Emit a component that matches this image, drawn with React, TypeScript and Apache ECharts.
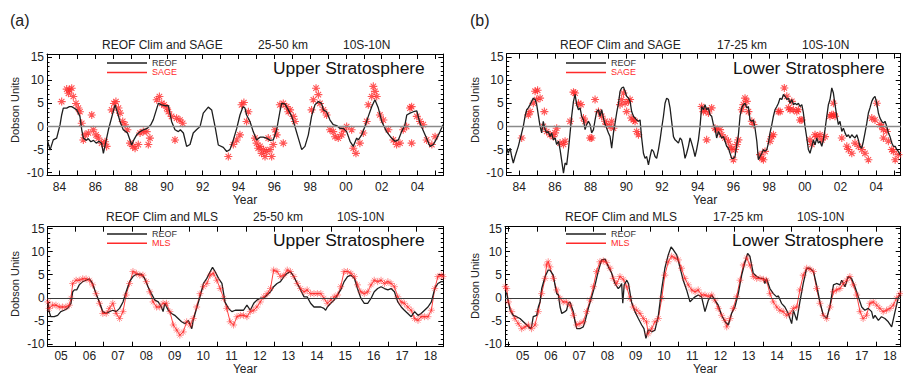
import React, { useEffect, useRef } from 'react';
import * as echarts from 'echarts';

const FONT = "'Liberation Sans', Arial, Helvetica, sans-serif";
const ASTER = 'path://M5,0L5,10M0,5L10,5M1.6,1.6L8.4,8.4M8.4,1.6L1.6,8.4';

// ---- tick values ----
const yMajorTicks = [-10, -5, 0, 5, 10, 15];
const yMinorTicks = [-9, -8, -7, -6, -4, -3, -2, -1, 1, 2, 3, 4, 6, 7, 8, 9, 11, 12, 13, 14];
const sageYearLabels = [1984, 1986, 1988, 1990, 1992, 1994, 1996, 1998, 2000, 2002, 2004];
const sageYearTicks = [1984, 1985, 1986, 1987, 1988, 1989, 1990, 1991, 1992, 1993, 1994, 1995, 1996, 1997, 1998, 1999, 2000, 2001, 2002, 2003, 2004, 2005];
const mlsYearLabels = [2005, 2006, 2007, 2008, 2009, 2010, 2011, 2012, 2013, 2014, 2015, 2016, 2017, 2018];
const mlsYearTicks = [2004.5, 2005.5, 2006.5, 2007.5, 2008.5, 2009.5, 2010.5, 2011.5, 2012.5, 2013.5, 2014.5, 2015.5, 2016.5, 2017.5];

// ---- (a) SAGE, 25-50 km ----
const sageUpperReof = [
  [1983.32, -2.9], [1983.47, -5.1], [1983.65, -2.9], [1983.84, -2.5], [1984.03, 0.4], [1984.12, 2.5], [1984.21, 4.0],
  [1984.4, 4.0], [1984.55, 4.3], [1984.68, 4.3], [1984.8, 4.0], [1984.96, 3.6], [1985.14, 2.2], [1985.24, -0.7],
  [1985.33, -2.5], [1985.5, -3.0], [1985.6, -2.6], [1985.75, -3.3], [1985.9, -3.0], [1986.05, -3.6], [1986.2, -3.2],
  [1986.35, -3.6], [1986.45, -5.8], [1986.73, -0.7], [1987.1, 4.7], [1987.2, 3.5], [1987.38, 1.1], [1987.56, -0.7],
  [1987.7, -1.1], [1987.8, -1.4], [1988.03, -4.0], [1988.15, -2.9], [1988.31, -1.8], [1988.5, -1.1], [1988.68, -0.7],
  [1988.9, -0.4], [1989.1, 0.4], [1989.24, 1.5], [1989.52, 5.0], [1989.7, 4.7], [1989.9, 4.5], [1990.08, 4.5],
  [1990.26, 1.1], [1990.45, -0.7], [1990.64, -1.1], [1990.75, -0.7], [1990.92, -1.4], [1991.1, -4.3], [1991.29, -3.9],
  [1991.47, -1.4], [1991.65, -0.7], [1991.85, 0], [1992.03, 2.9], [1992.31, 4.2], [1992.5, 3.6], [1992.69, 0],
  [1992.87, -4.0], [1993.15, -4.5], [1993.34, -5.4], [1993.52, -5.0], [1993.71, -2.9], [1993.9, -0.4], [1994.08, 2.5],
  [1994.25, 4.3], [1994.36, 4.0], [1994.45, 2.5], [1994.64, 1.1], [1994.82, -1.1], [1995.01, -2.9], [1995.2, -2.3],
  [1995.38, -2.3], [1995.57, -2.5], [1995.76, -3.0], [1995.94, -2.9], [1996.13, -0.7], [1996.31, 3.2], [1996.41, 5.0],
  [1996.59, 4.9], [1996.78, 3.6], [1996.97, 2.2], [1997.15, 0], [1997.34, -2.5], [1997.53, -5.0], [1997.71, -4.3],
  [1997.9, -1.8], [1998.08, 2.2], [1998.27, 4.7], [1998.46, 5.4], [1998.64, 5.0], [1998.74, 3.6], [1998.92, 3.2],
  [1999.11, 1.4], [1999.29, 0.4], [1999.48, 0.2], [1999.67, -0.4], [1999.85, -0.4], [2000.04, -1.1], [2000.23, -3.2],
  [2000.41, -4.3], [2000.6, -2.5], [2000.69, -2.9], [2000.88, -1.8], [2001.06, 0], [2001.25, 2.2], [2001.44, 4.3],
  [2001.62, 5.8], [2001.81, 4.0], [2002.0, 1.1], [2002.27, -1.1], [2002.55, -2.5], [2002.74, -3.2], [2002.93, -2.9],
  [2003.11, -1.1], [2003.3, 0.4], [2003.4, 2.5], [2003.58, 2.9], [2003.77, 3.2], [2003.96, 3.4], [2004.14, 0.7],
  [2004.42, -1.8], [2004.7, -4.3], [2004.89, -3.9], [2005.08, -2.5], [2005.26, -1.1], [2005.42, 0.4]
];
const sageUpperObs = [
  [1984.12, 5.4], [1984.4, 8.1], [1984.55, 7.9], [1984.68, 8.3], [1984.5, 7.2], [1984.77, 6.5], [1984.92, 5.0],
  [1985.05, 4.0], [1985.14, 3.2], [1985.24, 0.7], [1985.42, -1.8], [1985.33, -2.9], [1985.61, -1.4], [1985.8, 2.5],
  [1985.89, -0.7], [1986.04, -1.8], [1986.17, -2.5], [1986.35, -3.6], [1986.54, -3.3], [1986.63, -4.3],
  [1986.91, 3.6], [1987.04, 5.0], [1987.15, 5.4], [1987.29, 4.0], [1987.38, 2.9], [1987.53, 1.1], [1987.66, 0.4],
  [1987.79, -0.7], [1987.94, -3.6], [1988.09, -4.3], [1988.22, -4.7], [1988.4, -3.9], [1988.5, -1.4], [1988.68, -1.1],
  [1988.87, -1.1], [1989.05, -2.5], [1988.96, -3.9], [1989.43, 5.8], [1989.58, 6.5], [1989.71, 5.0], [1989.84, 4.7],
  [1989.99, 4.0], [1990.08, 3.2], [1990.26, 2.2], [1990.54, 1.8], [1990.73, 1.4], [1990.88, 0.7], [1990.45, -2.9],
  [1993.43, -6.5], [1993.71, -3.9], [1993.9, -2.9], [1994.08, -1.8], [1994.17, 4.7], [1994.3, 5.2], [1994.45, 1.1],
  [1994.55, 3.2], [1994.92, -2.5], [1995.01, -3.6], [1995.1, -4.7], [1995.2, -4.3], [1995.29, -5.8], [1995.4, -5.0],
  [1995.48, -6.5], [1995.57, -5.4], [1995.66, -2.5], [1995.76, -5.0], [1995.85, -6.5], [1995.94, -3.9], [1996.04, -0.7],
  [1996.13, -1.8], [1996.31, 4.7], [1996.5, 5.0], [1996.69, 4.3], [1996.78, 3.2], [1996.88, 3.6], [1997.06, 2.2],
  [1997.15, 1.1], [1996.5, -3.6], [1998.08, 3.6], [1998.18, 5.8], [1998.33, 8.3], [1998.46, 6.9], [1998.55, 5.0],
  [1998.74, 3.6], [1998.92, 2.5], [1999.11, -0.7], [1999.29, -1.1], [1999.39, -2.2], [1999.57, -2.5], [1999.76, -1.8],
  [1999.85, -0.7], [2000.04, 0], [2000.32, -0.7], [2000.41, -4.7], [2000.56, -5.8], [2000.78, -3.6], [2000.97, -1.4],
  [2001.16, 1.1], [2001.25, 4.7], [2001.44, 6.5], [2001.53, 8.7], [2001.62, 7.6], [2001.72, 6.5], [2001.9, 2.5],
  [2002.09, 1.4], [2002.37, -0.7], [2002.65, -2.9], [2002.83, -3.9], [2003.02, -3.6], [2003.2, -0.7], [2003.39, 0],
  [2003.58, 4.0], [2003.67, 4.3], [2003.96, 2.2], [2004.14, 1.1], [2004.32, 0.4], [2003.67, -3.6], [2004.51, -2.9],
  [2004.8, -3.9], [2004.98, -2.2]
];

// ---- (b) SAGE, 17-25 km ----
const sageLowerReof = [
  [1983.30, -4.7], [1983.39, -5.8], [1983.49, -4.7], [1983.58, -6.5], [1983.67, -7.9], [1983.77, -6.5], [1983.95, -4.3],
  [1984.14, -1.4], [1984.23, 0], [1984.33, 2.2], [1984.42, 3.6], [1984.51, 4.0], [1984.61, 4.7], [1984.70, 5.4],
  [1984.79, 6.1], [1984.89, 5.8], [1984.98, 4.7], [1985.07, 2.5], [1985.17, 0], [1985.26, -1.4], [1985.35, 1.1],
  [1985.45, -0.7], [1985.54, -1.4], [1985.63, -1.1], [1985.73, -2.2], [1985.82, -1.4], [1985.91, -2.9], [1986.01, -2.5],
  [1986.10, -3.9], [1986.20, -3.2], [1986.29, -5.0], [1986.38, -7.4], [1986.48, -10.1], [1986.57, -7.9], [1986.66, -8.3],
  [1986.76, -5.0], [1986.85, -1.4], [1986.94, 2.2], [1987.04, 5.4], [1987.13, 6.9], [1987.22, 4.7], [1987.32, 3.6],
  [1987.41, 4.0], [1987.50, 2.2], [1987.60, 1.4], [1987.69, -0.7], [1987.78, 0.4], [1987.88, 1.1], [1987.97, 0.4],
  [1988.06, -1.4], [1988.16, -0.7], [1988.25, 1.4], [1988.34, 3.2], [1988.44, 3.6], [1988.53, 2.2], [1988.62, 3.6],
  [1988.72, 1.8], [1988.81, 0.4], [1988.90, -0.4], [1989.00, -1.4], [1989.09, -2.2], [1989.18, -4.7], [1989.28, -1.4],
  [1989.37, 0.7], [1989.46, 2.9], [1989.56, 5.0], [1989.65, 7.6], [1989.74, 8.3], [1989.84, 8.5], [1989.93, 7.6],
  [1990.02, 6.5], [1990.12, 6.1], [1990.21, 5.4], [1990.30, 3.2], [1990.40, 2.2], [1990.49, 1.8], [1990.58, 1.4],
  [1990.68, 1.1], [1990.77, 1.4], [1990.86, -2.5], [1990.96, -5.8], [1991.05, -6.9], [1991.14, -6.5], [1991.24, -8.3],
  [1991.33, -6.5], [1991.42, -5.0], [1991.52, -5.4], [1991.61, -6.5], [1991.70, -6.9], [1991.80, -5.0], [1991.89, -2.9],
  [1991.98, -0.4], [1992.08, 2.2], [1992.17, 5.0], [1992.26, 6.1], [1992.36, 5.8], [1992.45, 4.0], [1992.54, 1.1],
  [1992.64, -2.2], [1992.73, -2.9], [1992.82, -3.2], [1992.92, -3.6], [1993.01, -2.5], [1993.10, -2.9], [1993.20, -4.7],
  [1993.29, -6.9], [1993.38, -5.8], [1993.48, -4.3], [1993.57, -2.5], [1993.66, -3.6], [1993.76, -5.0], [1993.85, -6.5],
  [1993.94, -5.0], [1994.04, -2.9], [1994.13, 0], [1994.22, 4.3], [1994.32, 3.6], [1994.41, 4.7], [1994.50, 3.6],
  [1994.60, 4.0], [1994.69, 2.5], [1994.78, 2.2], [1994.88, 0.4], [1994.97, -0.4], [1995.06, -2.5], [1995.16, -1.1],
  [1995.25, -1.8], [1995.34, -2.5], [1995.44, -2.2], [1995.53, -3.2], [1995.62, -4.3], [1995.72, -4.7], [1995.81, -5.8],
  [1995.90, -6.9], [1996.00, -6.9], [1996.09, -6.5], [1996.19, -3.9], [1996.28, -1.8], [1996.37, 2.2], [1996.47, 4.0],
  [1996.56, 4.7], [1996.65, 5.0], [1996.75, 4.0], [1996.84, 4.3], [1996.93, 1.4], [1997.03, 1.1], [1997.12, 1.4],
  [1997.21, -0.4], [1997.31, -3.2], [1997.40, -7.2], [1997.49, -6.5], [1997.59, -5.8], [1997.68, -5.0], [1997.77, -5.4],
  [1997.87, -5.0], [1997.96, -3.6], [1998.05, -1.4], [1998.15, 0.4], [1998.24, 2.2], [1998.33, 3.6], [1998.43, 4.3],
  [1998.52, 5.0], [1998.61, 6.1], [1998.71, 5.8], [1998.80, 6.9], [1998.89, 6.5], [1998.99, 5.8], [1999.08, 6.1],
  [1999.17, 5.0], [1999.27, 5.8], [1999.36, 4.7], [1999.45, 5.0], [1999.55, 4.7], [1999.64, 5.0], [1999.73, 4.3],
  [1999.83, 4.7], [1999.92, 2.9], [2000.01, 0], [2000.11, -2.5], [2000.20, -5.0], [2000.29, -5.8], [2000.39, -4.3],
  [2000.48, -2.9], [2000.57, -4.0], [2000.67, -2.5], [2000.76, -3.6], [2000.85, -3.2], [2000.95, -4.3], [2001.04, -2.9],
  [2001.13, -0.7], [2001.23, 2.2], [2001.32, 4.7], [2001.41, 5.8], [2001.51, 8.3], [2001.60, 7.2], [2001.69, 4.7],
  [2001.79, 2.2], [2001.88, 0.4], [2001.97, 1.1], [2002.07, -1.1], [2002.16, -0.4], [2002.25, -1.4], [2002.35, -2.2],
  [2002.44, -1.8], [2002.53, -2.5], [2002.63, -1.8], [2002.72, -2.2], [2002.81, -2.5], [2002.91, -1.8], [2003.00, -2.9],
  [2003.09, -4.3], [2003.19, -4.7], [2003.28, -3.2], [2003.37, -1.4], [2003.47, 0.7], [2003.56, 2.9], [2003.65, 4.0],
  [2003.75, 5.4], [2003.84, 6.1], [2003.93, 6.5], [2004.03, 5.0], [2004.12, 2.9], [2004.21, 1.8], [2004.31, 1.1],
  [2004.40, 0.7], [2004.49, 1.1], [2004.59, 0], [2004.68, -1.4], [2004.77, -2.2], [2004.87, -3.6], [2004.96, -4.3],
  [2005.06, -4.3], [2005.15, -5.0], [2005.24, -5.4], [2005.34, -6.1]
];
const sageLowerObs = [
  [1984.14, -2.5], [1984.51, 2.5], [1984.61, 3.2], [1984.79, 5.0], [1984.89, 7.6], [1985.03, 7.8], [1984.98, 5.8],
  [1985.17, 6.1], [1985.41, 3.2], [1985.35, 0], [1985.54, -1.1], [1985.73, -1.8], [1985.91, -2.2], [1986.01, -1.4],
  [1986.1, -0.4], [1986.29, -3.6], [1986.48, -3.9], [1986.57, -3.2], [1986.85, 1.1], [1987.04, 7.4], [1987.13, 7.2],
  [1987.32, 5.0], [1987.46, 4.7], [1987.6, 1.8], [1987.69, 1.1], [1987.97, -2.5], [1988.06, -2.5], [1988.25, 5.8],
  [1988.44, 3.2], [1988.62, 2.2], [1988.81, 1.1], [1988.9, 0.4], [1989.09, 0], [1989.18, 1.1], [1989.28, -0.4],
  [1989.65, 4.7], [1989.74, 5.8], [1989.84, 7.2], [1989.93, 5.0], [1990.02, 3.2], [1990.12, 5.4], [1990.21, 5.8],
  [1990.27, 1.8], [1990.4, 1.4], [1990.49, 1.1], [1990.58, -1.1], [1990.68, -1.8],
  [1994.22, 4.3], [1994.32, 3.2], [1994.41, 3.6], [1994.6, 2.9], [1994.78, 4.0], [1994.5, -2.9], [1994.97, -0.4],
  [1995.06, -0.7], [1995.25, -0.7], [1995.34, -1.8], [1995.53, -2.5], [1995.72, -3.2], [1995.81, -4.3], [1995.9, -5.0],
  [1996.0, -7.2], [1996.09, -5.0], [1996.19, -3.9], [1996.28, -2.9], [1996.47, 3.6], [1996.56, 4.7], [1996.65, 6.1],
  [1996.75, 5.4], [1996.84, 3.2], [1997.03, 1.1], [1997.12, 0.4], [1997.49, -6.1], [1997.59, -6.9], [1997.68, -7.2],
  [1997.77, -5.4], [1998.05, -3.2], [1998.15, -2.2], [1998.24, -1.8], [1998.52, 3.2], [1998.61, 3.2], [1998.85, 8.3],
  [1998.99, 6.5], [1999.08, 4.0], [1999.17, 3.6], [1999.27, 5.4], [1999.36, 3.6], [1999.55, 3.2], [1999.64, 3.6],
  [1999.73, 1.4], [1999.83, 1.4], [2000.29, -2.9], [2000.39, -3.9], [2000.57, -1.8], [2000.67, -2.2], [2000.85, -1.8],
  [2000.95, -2.9], [2001.13, -2.2], [2001.41, 2.2], [2001.51, 2.5], [2001.6, 2.5], [2001.69, 2.2], [2001.6, 5.0],
  [2002.07, -2.5], [2002.35, -4.3], [2002.44, -5.0], [2002.63, -5.8], [2002.81, -3.6], [2003.0, -4.3], [2003.19, -5.0],
  [2003.37, -5.8], [2003.56, -7.2], [2003.75, 1.8], [2003.93, 1.4], [2004.03, 5.0], [2004.21, 0.4], [2004.31, 0],
  [2004.4, -0.7], [2004.4, -2.5], [2004.59, -1.1], [2004.68, -3.2], [2004.87, -5.0], [2004.96, -5.4], [2005.06, -7.2],
  [2005.24, -6.1]
];

// ---- MLS, 25-50 km ----
const mlsUpperReof = [
  [2004.54, -0.9], [2004.58, -3.0], [2004.64, -4.1], [2004.76, -4.1], [2004.88, -3.8], [2004.99, -3.0], [2005.11, -2.7],
  [2005.23, -2.3], [2005.35, -1.2], [2005.41, 1.3], [2005.47, 1.7], [2005.55, 1.7], [2005.64, 2.8], [2005.76, 3.5],
  [2005.88, 3.8], [2006.0, 4.1], [2006.11, 3.1], [2006.23, 0.9], [2006.35, -0.9], [2006.47, -3.0], [2006.59, -3.4],
  [2006.7, -3.0], [2006.82, -2.7], [2006.94, -3.0], [2007.06, -2.3], [2007.18, -0.9], [2007.29, 1.3], [2007.41, 3.5],
  [2007.53, 4.6], [2007.65, 5.1], [2007.83, 5.1], [2007.94, 4.2], [2008.06, 2.4], [2008.18, 0.9], [2008.3, -0.5],
  [2008.42, -0.9], [2008.53, -2.0], [2008.59, -3.0], [2008.65, -1.2], [2008.77, -2.7], [2008.89, -3.4], [2009.0, -3.8],
  [2009.12, -4.5], [2009.24, -5.2], [2009.36, -5.6], [2009.48, -4.9], [2009.6, -6.7], [2009.65, -4.9], [2009.77, -2.3],
  [2009.89, 0.2], [2010.01, 3.1], [2010.13, 4.2], [2010.25, 5.7], [2010.33, 6.6], [2010.42, 5.7], [2010.54, 4.2],
  [2010.66, 3.1], [2010.77, -0.9], [2010.89, -2.3], [2011.01, -3.0], [2011.13, -2.7], [2011.25, -2.7], [2011.42, -2.7],
  [2011.54, -1.6], [2011.66, -2.7], [2011.78, -1.2], [2011.89, -0.5], [2012.01, -0.1], [2012.13, -0.1], [2012.25, 0.6],
  [2012.37, 1.3], [2012.48, 2.4], [2012.6, 3.1], [2012.72, 3.5], [2012.84, 4.6], [2012.96, 5.3], [2013.07, 5.7],
  [2013.19, 4.6], [2013.31, 3.1], [2013.43, 1.7], [2013.55, 0.2], [2013.66, 0.2], [2013.78, -1.2], [2013.9, -2.0],
  [2014.02, -2.0], [2014.14, -2.0], [2014.25, -2.3], [2014.31, -2.7], [2014.37, -2.0], [2014.49, -1.2], [2014.61, -0.5],
  [2014.73, 0.6], [2014.84, 1.7], [2014.96, 3.5], [2015.08, 4.6], [2015.2, 4.9], [2015.32, 4.2], [2015.43, 2.0],
  [2015.55, -0.1], [2015.67, -1.2], [2015.79, -1.2], [2015.91, -0.1], [2016.02, 1.3], [2016.14, 2.0], [2016.26, 2.4],
  [2016.38, 2.0], [2016.5, 1.7], [2016.61, 2.0], [2016.73, 1.3], [2016.85, -0.9], [2016.97, -2.0], [2017.08, -2.7],
  [2017.2, -3.4], [2017.32, -4.1], [2017.44, -3.0], [2017.56, -3.8], [2017.67, -3.4], [2017.79, -2.7], [2017.91, -2.0],
  [2018.03, -0.9], [2018.15, 2.0], [2018.26, 3.1], [2018.38, 3.5], [2018.44, 3.5]
];
const mlsUpperObs = [
  [2004.54, -0.9], [2004.58, -2.3], [2004.7, -1.6], [2004.82, -1.6], [2004.94, -2.0], [2005.05, -2.0], [2005.17, -2.0],
  [2005.29, -1.6], [2005.35, -0.1], [2005.41, 3.1], [2005.53, 3.8], [2005.64, 3.8], [2005.76, 4.1], [2005.88, 4.1],
  [2006.0, 3.8], [2006.11, 2.8], [2006.23, 0.9], [2006.35, -1.2], [2006.47, -3.4], [2006.59, -3.4], [2006.7, -2.3],
  [2006.82, -1.2], [2006.94, -3.4], [2007.06, -4.5], [2007.18, -3.0], [2007.29, 0.6], [2007.41, 3.1], [2007.53, 5.7],
  [2007.65, 5.3], [2007.77, 4.9], [2007.88, 4.9], [2008.0, 3.5], [2008.12, 1.3], [2008.24, -0.9], [2008.36, -2.0],
  [2008.47, -2.0], [2008.59, -1.2], [2008.71, -1.2], [2008.83, -3.0], [2008.95, -5.9], [2009.07, -7.0], [2009.18, -8.1],
  [2009.3, -7.4], [2009.42, -5.2], [2009.54, -5.9], [2009.65, -4.5], [2009.77, -2.0], [2009.89, 0.9], [2010.01, 2.4],
  [2010.13, 3.1], [2010.25, 4.9], [2010.36, 5.3], [2010.48, 3.8], [2010.6, 2.0], [2010.72, -0.1], [2010.83, -2.3],
  [2010.95, -5.2], [2011.07, -5.9], [2011.19, -4.1], [2011.31, -3.8], [2011.42, -3.8], [2011.54, -4.1], [2011.66, -3.0],
  [2011.78, -2.7], [2011.89, -2.0], [2012.01, -0.9], [2012.13, 0.2], [2012.25, 0.9], [2012.37, 2.0], [2012.48, 6.0],
  [2012.6, 5.7], [2012.72, 4.6], [2012.84, 4.9], [2012.96, 6.0], [2013.07, 5.7], [2013.19, 4.6], [2013.31, 3.1],
  [2013.43, 2.0], [2013.55, 1.3], [2013.66, 1.7], [2013.78, 0.9], [2013.9, 0.9], [2014.02, 0.9], [2014.14, 0.9],
  [2014.25, -0.1], [2014.37, -1.2], [2014.49, -0.5], [2014.61, 0.2], [2014.73, 0.6], [2014.84, 2.4], [2014.96, 5.7],
  [2015.08, 5.7], [2015.2, 5.3], [2015.32, 4.6], [2015.43, 2.8], [2015.55, 1.3], [2015.67, 0.9], [2015.79, 1.3],
  [2015.91, 2.8], [2016.02, 3.8], [2016.14, 3.5], [2016.26, 3.8], [2016.38, 3.1], [2016.5, 3.5], [2016.61, 3.1],
  [2016.73, 2.4], [2016.85, 0.2], [2016.97, -0.9], [2017.08, -1.2], [2017.2, -2.0], [2017.32, -2.7], [2017.44, -4.5],
  [2017.56, -4.9], [2017.67, -4.1], [2017.79, -4.1], [2017.91, -4.1], [2018.03, -2.7], [2018.15, 2.0], [2018.26, 4.6],
  [2018.38, 4.9], [2018.44, 4.6]
];

// ---- MLS, 17-25 km ----
const mlsLowerReof = [
  [2004.38, 1.3], [2004.43, 0.9], [2004.49, -0.9], [2004.55, -2.7], [2004.66, -3.8], [2004.78, -4.1], [2004.9, -4.5],
  [2005.02, -5.2], [2005.14, -5.9], [2005.27, -6.7], [2005.31, -6.3], [2005.37, -4.1], [2005.49, -3.8], [2005.55, -2.0],
  [2005.61, -0.9], [2005.67, 2.0], [2005.79, 4.6], [2005.9, 6.0], [2005.96, 6.0], [2006.08, 4.9], [2006.14, 2.8],
  [2006.2, 0.9], [2006.26, 0.6], [2006.32, -2.0], [2006.38, -3.4], [2006.49, -3.0], [2006.55, -2.7], [2006.61, -1.2],
  [2006.67, -0.9], [2006.79, -3.0], [2006.85, -5.2], [2006.91, -6.7], [2007.02, -6.7], [2007.14, -6.3], [2007.2, -5.2],
  [2007.32, -2.3], [2007.44, 0.2], [2007.56, 2.8], [2007.67, 5.7], [2007.79, 8.2], [2007.91, 8.4], [2008.03, 6.7],
  [2008.15, 5.3], [2008.26, 3.1], [2008.38, 2.0], [2008.44, 2.4], [2008.5, 3.1], [2008.54, -1.2], [2008.59, 2.8],
  [2008.68, 3.8], [2008.74, 3.1], [2008.85, -0.9], [2008.97, -3.0], [2009.09, -4.5], [2009.21, -5.9], [2009.29, -6.7],
  [2009.36, -8.8], [2009.44, -7.0], [2009.5, -7.0], [2009.56, -7.4], [2009.68, -7.0], [2009.8, -3.8], [2009.92, 2.0],
  [2010.03, 6.4], [2010.15, 9.3], [2010.25, 11.0], [2010.33, 10.4], [2010.45, 9.3], [2010.56, 6.7], [2010.68, 3.8],
  [2010.8, 1.7], [2010.92, -0.9], [2011.04, -0.1], [2011.1, 0.2], [2011.21, 0.6], [2011.33, 0.2], [2011.45, -3.0],
  [2011.57, -0.5], [2011.69, 0.6], [2011.8, -0.5], [2011.92, -1.6], [2012.04, -3.8], [2012.16, -5.2], [2012.28, -5.9],
  [2012.39, -3.4], [2012.51, -2.0], [2012.63, 0.9], [2012.75, 4.9], [2012.87, 7.8], [2012.96, 9.6], [2013.04, 9.0],
  [2013.16, 5.3], [2013.28, 4.6], [2013.4, 4.2], [2013.52, 4.2], [2013.57, 3.1], [2013.63, 4.2], [2013.75, 2.0],
  [2013.87, 0.9], [2013.99, 0.2], [2014.05, 0.4], [2014.16, -1.2], [2014.28, -2.0], [2014.4, -3.4], [2014.52, -5.6],
  [2014.58, -2.7], [2014.7, -4.9], [2014.81, -0.9], [2014.93, 3.1], [2015.05, 6.4], [2015.17, 6.4], [2015.29, 5.7],
  [2015.4, 2.8], [2015.52, -0.9], [2015.64, -3.8], [2015.76, -4.5], [2015.88, -1.6], [2016.0, 2.8], [2016.11, 3.1],
  [2016.23, 2.8], [2016.29, 3.8], [2016.41, 2.4], [2016.52, 4.6], [2016.64, 4.2], [2016.76, 2.4], [2016.88, 0.2],
  [2017.0, -2.0], [2017.11, -2.7], [2017.23, -2.3], [2017.35, -3.0], [2017.41, -4.5], [2017.47, -3.8], [2017.59, -4.9],
  [2017.7, -4.1], [2017.82, -4.5], [2017.94, -5.2], [2018.06, -6.3], [2018.18, -3.0], [2018.29, -0.1], [2018.37, 0.9]
];
const mlsLowerObs = [
  [2004.38, 2.4], [2004.43, 2.0], [2004.49, -0.9], [2004.61, -3.0], [2004.72, -4.5], [2004.84, -5.6], [2004.96, -6.7],
  [2005.08, -6.3], [2005.2, -5.9], [2005.31, -6.7], [2005.43, -5.9], [2005.55, -3.0], [2005.67, 0.9], [2005.79, 4.2],
  [2005.84, 7.1], [2005.9, 7.8], [2005.96, 6.7], [2006.08, 4.2], [2006.2, 1.7], [2006.32, -0.1], [2006.43, -0.9],
  [2006.55, -0.9], [2006.67, -1.6], [2006.79, -3.8], [2006.91, -5.9], [2007.02, -5.6], [2007.14, -5.2], [2007.26, -3.0],
  [2007.38, -0.5], [2007.5, 2.4], [2007.61, 5.7], [2007.73, 7.8], [2007.85, 8.0], [2007.97, 7.6], [2008.09, 6.4],
  [2008.2, 4.2], [2008.32, 3.1], [2008.44, 4.6], [2008.56, 4.0], [2008.68, 2.4], [2008.79, -0.1], [2008.91, -2.0],
  [2009.03, -2.7], [2009.15, -3.4], [2009.27, -4.5], [2009.38, -5.2], [2009.44, -7.8], [2009.56, -6.7], [2009.68, -5.2],
  [2009.8, -4.5], [2009.92, -0.1], [2010.03, 4.9], [2010.15, 7.8], [2010.27, 9.0], [2010.39, 8.6], [2010.51, 8.2],
  [2010.62, 6.4], [2010.74, 4.2], [2010.86, 2.8], [2010.98, 1.7], [2011.1, 1.3], [2011.21, 1.7], [2011.33, 0.6],
  [2011.45, 0.6], [2011.57, 0.3], [2011.69, 0.6], [2011.8, -0.5], [2011.92, -2.3], [2012.04, -3.8], [2012.16, -4.9],
  [2012.22, -6.3], [2012.34, -4.5], [2012.45, -2.3], [2012.57, 0.2], [2012.69, 3.8], [2012.81, 7.1], [2012.93, 8.6],
  [2013.04, 7.1], [2013.16, 4.6], [2013.28, 4.2], [2013.4, 4.2], [2013.52, 4.0], [2013.63, 3.8], [2013.75, 0.9],
  [2013.87, -0.9], [2013.99, -2.0], [2014.1, -2.7], [2014.22, -3.0], [2014.34, -3.8], [2014.46, -3.4], [2014.58, -2.3],
  [2014.7, -2.0], [2014.81, 1.7], [2014.93, 4.9], [2015.05, 6.4], [2015.17, 6.2], [2015.29, 5.7], [2015.4, 2.0],
  [2015.52, -1.2], [2015.64, -3.8], [2015.76, -4.5], [2015.88, -2.0], [2016.0, 1.3], [2016.11, 1.7], [2016.23, 2.0],
  [2016.35, 3.1], [2016.47, 3.8], [2016.58, 4.6], [2016.7, 2.8], [2016.82, 0.6], [2016.94, -3.0], [2017.05, -4.5],
  [2017.17, -3.8], [2017.29, -1.2], [2017.41, -0.9], [2017.53, -1.6], [2017.64, -2.3], [2017.76, -3.0], [2017.88, -2.7],
  [2018.0, -2.3], [2018.12, -1.6], [2018.23, -0.1], [2018.35, 0.9]
];

const RED = '#ff2a2a';

type Panel = {
  grid: { left: number; top: number; width: number; height: number };
  xMin: number; xMax: number; yMin: number; yMax: number;
  labels: number[]; ticks: number[]; labelMargin: number;
  reof: number[][]; obs: number[][]; obsName: string; kind: 'scatter' | 'line';
  zeroColor: string; zeroWidth: number; legendLeft: number; legendTop: number;
};

const panels: Panel[] = [
  { grid: { left: 47, top: 54, width: 396.3, height: 121.5 }, xMin: 1983.3, xMax: 2005.44, yMin: -10.6, yMax: 15.7,
    labels: sageYearLabels, ticks: sageYearTicks, labelMargin: 5, reof: sageUpperReof, obs: sageUpperObs,
    obsName: 'SAGE', kind: 'scatter', zeroColor: '#8a8a8a', zeroWidth: 1.3, legendLeft: 107, legendTop: 58.6 },
  { grid: { left: 506.7, top: 53.7, width: 394, height: 121.8 }, xMin: 1983.3, xMax: 2005.37, yMin: -10.6, yMax: 15.7,
    labels: sageYearLabels, ticks: sageYearTicks, labelMargin: 5, reof: sageLowerReof, obs: sageLowerObs,
    obsName: 'SAGE', kind: 'scatter', zeroColor: '#8a8a8a', zeroWidth: 1.3, legendLeft: 566, legendTop: 58.6 },
  { grid: { left: 47.7, top: 226.7, width: 395.6, height: 120 }, xMin: 2004.53, xMax: 2018.45, yMin: -10.6, yMax: 15.4,
    labels: mlsYearLabels, ticks: mlsYearTicks, labelMargin: 3, reof: mlsUpperReof, obs: mlsUpperObs,
    obsName: 'MLS', kind: 'line', zeroColor: '#3a3a3a', zeroWidth: 1, legendLeft: 107, legendTop: 229.4 },
  { grid: { left: 505, top: 226.7, width: 395.7, height: 120 }, xMin: 2004.37, xMax: 2018.38, yMin: -10.6, yMax: 15.4,
    labels: mlsYearLabels, ticks: mlsYearTicks, labelMargin: 3, reof: mlsLowerReof, obs: mlsLowerObs,
    obsName: 'MLS', kind: 'line', zeroColor: '#3a3a3a', zeroWidth: 1, legendLeft: 566, legendTop: 229.4 }
];

const txt = (x: number, y: number, text: string, size: number, color = '#222', align = 'left', rotation = 0) => ({
  type: 'text', x, y, rotation, silent: true,
  style: { text, fill: color, fontSize: size, fontFamily: FONT, align, verticalAlign: 'middle' }
});

function buildOption() {
  const axisLine = { show: true, onZero: false, lineStyle: { color: '#000', width: 1 } };
  const xAxis: any[] = [];
  const yAxis: any[] = [];
  const series: any[] = [];
  panels.forEach((p, g) => {
    const ticks = p.ticks.filter((t) => t > p.xMin && t < p.xMax);
    const base = { type: 'value', gridIndex: g, min: p.xMin, max: p.xMax, splitLine: { show: false } };
    xAxis.push({
      ...base, position: 'bottom', axisLine,
      axisTick: { show: true, inside: true, length: 5, customValues: ticks, lineStyle: { color: '#000' } },
      axisLabel: {
        show: true, customValues: p.labels, margin: p.labelMargin, fontSize: 12, fontFamily: FONT, color: '#222',
        formatter: (v: number) => String(Math.round(v) % 100).padStart(2, '0')
      }
    });
    xAxis.push({
      ...base, position: 'top', axisLine,
      axisTick: { show: true, inside: true, length: 5, customValues: ticks, lineStyle: { color: '#000' } },
      axisLabel: { show: false }
    });
    const yb = { type: 'value', gridIndex: g, min: p.yMin, max: p.yMax, splitLine: { show: false } };
    yAxis.push({
      ...yb, position: 'left', axisLine,
      axisTick: { show: true, inside: true, length: 5, customValues: yMajorTicks, lineStyle: { color: '#000' } },
      axisLabel: { show: true, customValues: yMajorTicks, margin: 3, fontSize: 12, fontFamily: FONT, color: '#222' }
    });
    yAxis.push({
      ...yb, position: 'left', axisLine: { show: false },
      axisTick: { show: true, inside: true, length: 2.5, customValues: yMinorTicks, lineStyle: { color: '#000' } },
      axisLabel: { show: false }
    });
    yAxis.push({
      ...yb, position: 'right', axisLine,
      axisTick: { show: true, inside: true, length: 5, customValues: yMajorTicks, lineStyle: { color: '#000' } },
      axisLabel: { show: false }
    });
    yAxis.push({
      ...yb, position: 'right', axisLine: { show: false },
      axisTick: { show: true, inside: true, length: 2.5, customValues: yMinorTicks, lineStyle: { color: '#000' } },
      axisLabel: { show: false }
    });
    const zeroLine = {
      silent: true, symbol: ['none', 'none'], label: { show: false },
      lineStyle: { color: p.zeroColor, width: p.zeroWidth, type: 'solid' }, data: [{ yAxis: 0 }]
    };
    if (p.kind === 'scatter') {
      series.push({
        name: p.obsName, type: 'scatter', xAxisIndex: 2 * g, yAxisIndex: 4 * g, data: p.obs,
        symbol: ASTER, symbolSize: 8,
        itemStyle: { color: 'transparent', borderColor: RED, borderWidth: 1.1, opacity: 0.8 },
        markLine: zeroLine
      });
    } else {
      series.push({
        name: p.obsName, type: 'line', xAxisIndex: 2 * g, yAxisIndex: 4 * g, data: p.obs,
        symbol: ASTER, symbolSize: 7, showSymbol: true, showAllSymbol: true,
        itemStyle: { color: 'transparent', borderColor: RED, borderWidth: 1, opacity: 0.5 },
        lineStyle: { color: RED, width: 1, opacity: 0.9 },
        markLine: zeroLine
      });
    }
    series.push({
      name: 'REOF', type: 'line', xAxisIndex: 2 * g, yAxisIndex: 4 * g, data: p.reof,
      symbol: 'none', showSymbol: false, lineStyle: { color: '#1e1e1e', width: 1.3 }
    });
  });

  const legend = panels.map((p) => ({
    orient: 'vertical', left: p.legendLeft, top: p.legendTop, padding: 0, itemGap: 0.3,
    itemWidth: 40, itemHeight: 1.5, icon: 'rect', selectedMode: false,
    textStyle: { fontSize: 9, fontFamily: FONT, lineHeight: 8 },
    data: [
      { name: 'REOF', itemStyle: { color: '#1e1e1e', borderWidth: 0, opacity: 1 }, textStyle: { color: '#333' } },
      { name: p.obsName, itemStyle: { color: RED, borderWidth: 0, opacity: 1 }, textStyle: { color: RED } }
    ]
  }));

  const graphic = [
    txt(10, 20, '(a)', 16), txt(470, 20, '(b)', 16),
    txt(102, 45, 'REOF Clim and SAGE', 12), txt(258, 45, '25-50 km', 12), txt(343, 45, '10S-10N', 12),
    txt(560, 45, 'REOF Clim and SAGE', 12), txt(717, 45, '17-25 km', 12), txt(802, 45, '10S-10N', 12),
    txt(106, 216.7, 'REOF Clim and MLS', 12), txt(253, 216.7, '25-50 km', 12), txt(337, 216.7, '10S-10N', 12),
    txt(565, 216.7, 'REOF Clim and MLS', 12), txt(713, 216.7, '17-25 km', 12), txt(797, 216.7, '10S-10N', 12),
    txt(273, 68, 'Upper Stratosphere', 17.4, '#111'), txt(733, 68, 'Lower Stratosphere', 17.4, '#111'),
    txt(273, 240, 'Upper Stratosphere', 17.4, '#111'), txt(732, 239.5, 'Lower Stratosphere', 17.4, '#111'),
    txt(15, 110, 'Dobson Units', 11, '#222', 'center', Math.PI / 2),
    txt(475, 110, 'Dobson Units', 11, '#222', 'center', Math.PI / 2),
    txt(15, 284, 'Dobson Units', 11, '#222', 'center', Math.PI / 2),
    txt(475, 286, 'Dobson Units', 11, '#222', 'center', Math.PI / 2),
    txt(245, 199.5, 'Year', 12, '#222', 'center'), txt(705, 199.5, 'Year', 12, '#222', 'center'),
    txt(245, 369, 'Year', 12, '#222', 'center'), txt(705, 369, 'Year', 12, '#222', 'center')
  ];

  return {
    animation: false,
    backgroundColor: '#fff',
    textStyle: { fontFamily: FONT },
    grid: panels.map((p) => ({ ...p.grid, containLabel: false, outerBoundsMode: 'none' })),
    xAxis, yAxis, series, legend, graphic
  };
}

export default function App() {
  const ref = useRef<HTMLDivElement>(null);
  useEffect(() => {
    if (!ref.current) return;
    const chart = echarts.init(ref.current, null, { renderer: 'svg' });
    chart.setOption(buildOption() as any);
    return () => chart.dispose();
  }, []);
  return (
    <div
      ref={ref}
      style={{ position: 'absolute', left: 0, top: 0, width: 903, height: 375, background: '#fff' }}
    />
  );
}
